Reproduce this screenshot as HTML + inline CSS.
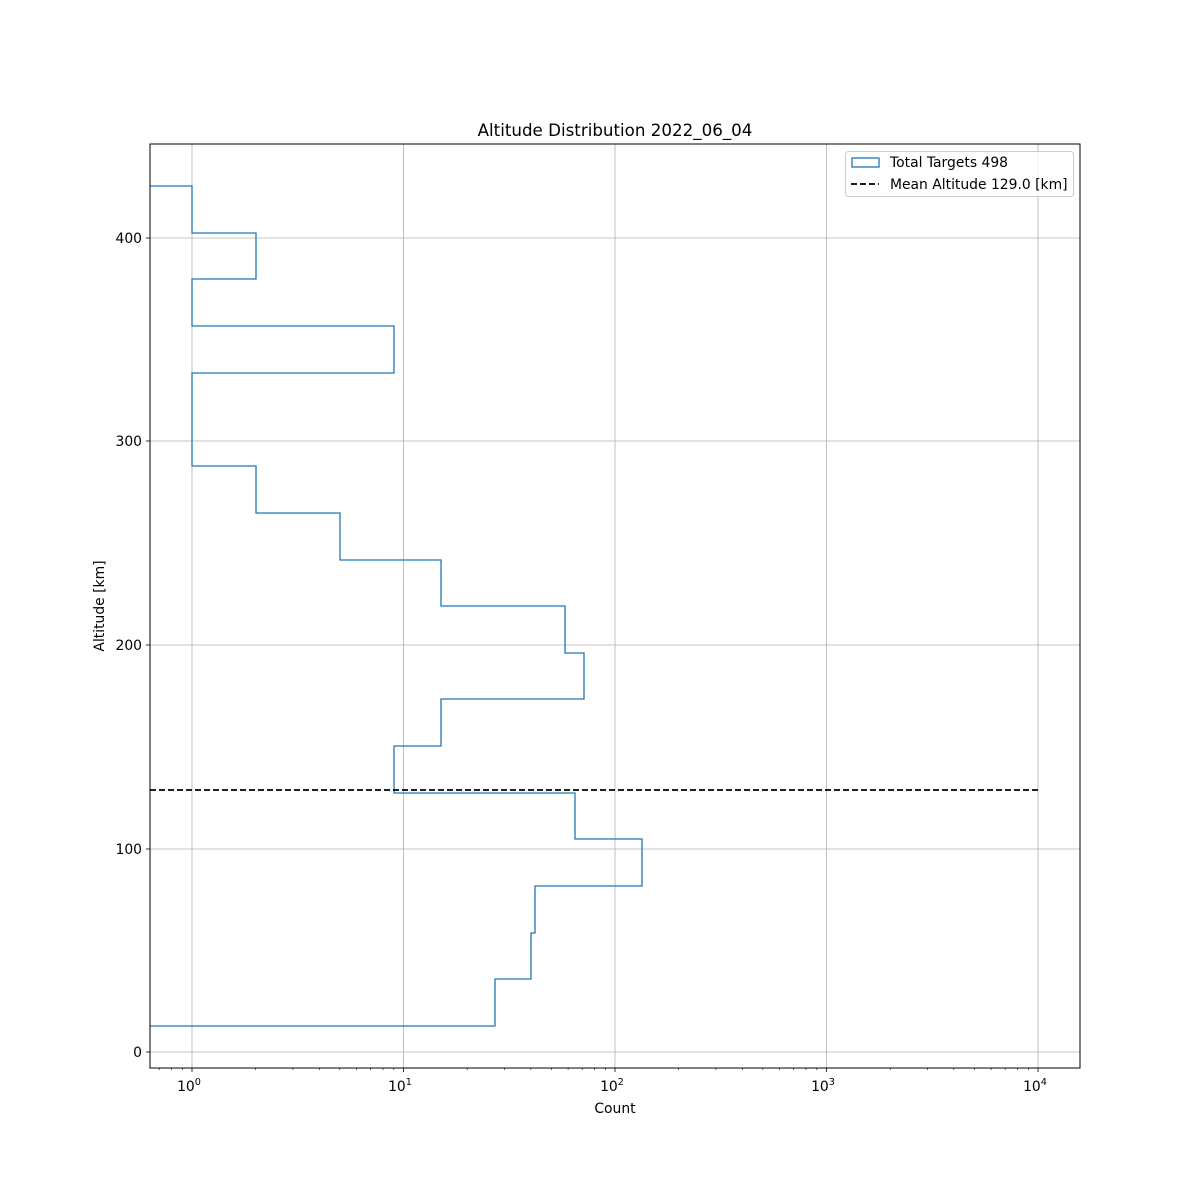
<!DOCTYPE html>
<html><head><meta charset="utf-8"><style>body{margin:0;background:#fff}svg{display:block}text{font-family:"DejaVu Sans","Liberation Sans",sans-serif;fill:#000}</style></head><body>
<svg width="1200" height="1200" xmlns="http://www.w3.org/2000/svg">
<rect width="1200" height="1200" fill="#fff"/>
<g stroke="#b0b0b0" stroke-width="0.8">
<line x1="192" y1="144" x2="192" y2="1068"/><line x1="403.5" y1="144" x2="403.5" y2="1068"/><line x1="615" y1="144" x2="615" y2="1068"/><line x1="826.5" y1="144" x2="826.5" y2="1068"/><line x1="1038" y1="144" x2="1038" y2="1068"/>
<line x1="150" y1="1052" x2="1080" y2="1052"/><line x1="150" y1="849" x2="1080" y2="849"/><line x1="150" y1="645" x2="1080" y2="645"/><line x1="150" y1="441" x2="1080" y2="441"/><line x1="150" y1="238" x2="1080" y2="238"/>
</g>
<path d="M150 1026 H495 V979 H531 V933 H535 V886 H642 V839 H575 V793 H394 V746 H441 V699 H584 V653 H565 V606 H441 V560 H340 V513 H256 V466 H192 V373 H394 V326 H192 V279 H256 V233 H192 V186 H150" fill="none" stroke="#1f77b4" stroke-width="1.3"/>
<line x1="150" y1="790" x2="1038" y2="790" stroke="#000" stroke-width="1.8" stroke-dasharray="6,3"/>
<rect x="150" y="144" width="930" height="924" fill="none" stroke="#000" stroke-width="1"/>
<g stroke="#000" stroke-width="0.8">
<line x1="192" y1="1068" x2="192" y2="1072"/><line x1="403.5" y1="1068" x2="403.5" y2="1072"/><line x1="615" y1="1068" x2="615" y2="1072"/><line x1="826.5" y1="1068" x2="826.5" y2="1072"/><line x1="1038" y1="1068" x2="1038" y2="1072"/>
<line x1="146" y1="1052" x2="150" y2="1052"/><line x1="146" y1="849" x2="150" y2="849"/><line x1="146" y1="645" x2="150" y2="645"/><line x1="146" y1="441" x2="150" y2="441"/><line x1="146" y1="238" x2="150" y2="238"/>
</g>
<g stroke="#000" stroke-width="0.6">
<path d="M159.2 1068v2M171.5 1068v2M182.3 1068v2M255.7 1068v2M292.9 1068v2M319.3 1068v2M339.8 1068v2M356.6 1068v2M370.7 1068v2M383 1068v2M393.8 1068v2M467.2 1068v2M504.4 1068v2M530.8 1068v2M551.3 1068v2M568.1 1068v2M582.2 1068v2M594.5 1068v2M605.3 1068v2M678.7 1068v2M715.9 1068v2M742.3 1068v2M762.8 1068v2M779.6 1068v2M793.7 1068v2M806 1068v2M816.8 1068v2M890.2 1068v2M927.4 1068v2M953.8 1068v2M974.3 1068v2M991.1 1068v2M1005.2 1068v2M1017.5 1068v2M1028.3 1068v2"/>
</g>
<g font-size="13.9" text-anchor="middle">
<text x="189" y="1091">10<tspan dy="-6" font-size="9.7">0</tspan></text>
<text x="400" y="1091">10<tspan dy="-6" font-size="9.7">1</tspan></text>
<text x="612" y="1091">10<tspan dy="-6" font-size="9.7">2</tspan></text>
<text x="823" y="1091">10<tspan dy="-6" font-size="9.7">3</tspan></text>
<text x="1035" y="1091">10<tspan dy="-6" font-size="9.7">4</tspan></text>
</g>
<g font-size="13.9" text-anchor="end">
<text x="142" y="1057">0</text><text x="142" y="854">100</text><text x="142" y="650">200</text><text x="142" y="446">300</text><text x="142" y="243">400</text>
</g>
<text x="615" y="1113" font-size="13.9" text-anchor="middle">Count</text>
<text x="0" y="0" font-size="13.9" text-anchor="middle" transform="translate(104 606) rotate(-90)">Altitude [km]</text>
<text x="615" y="136" font-size="16.7" text-anchor="middle">Altitude Distribution 2022_06_04</text>
<rect x="845.5" y="151.5" width="228" height="45" rx="3" fill="#fff" fill-opacity="0.8" stroke="#ccc"/>
<rect x="852" y="158" width="27" height="9" fill="none" stroke="#1f77b4" stroke-width="1.3"/>
<text x="890" y="167" font-size="13.9">Total Targets 498</text>
<line x1="851" y1="184" x2="879" y2="184" stroke="#000" stroke-width="1.8" stroke-dasharray="6,3"/>
<text x="890" y="189" font-size="13.9">Mean Altitude 129.0 [km]</text>
</svg>
</body></html>
